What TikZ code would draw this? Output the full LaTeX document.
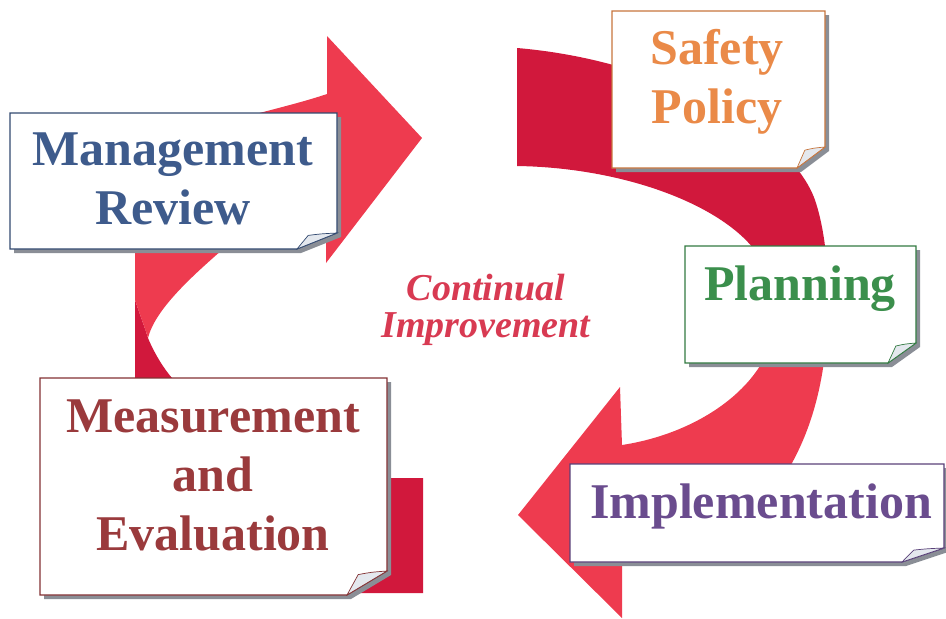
\documentclass[tikz,border=0pt]{standalone}
\usepackage{fontspec}
\setmainfont{Liberation Serif}
\usepackage{xcolor}
\usetikzlibrary{calc}

\definecolor{redlight}{HTML}{EE3B4F}
\definecolor{reddark}{HTML}{D1183C}
\definecolor{boxshadow}{HTML}{8A8E96}
\definecolor{flap}{HTML}{E4E8EE}
\definecolor{reviewc}{HTML}{3E5B8C}
\definecolor{policyc}{HTML}{EA8A48}
\definecolor{planningc}{HTML}{3B8F4C}
\definecolor{measurec}{HTML}{9A3A3C}
\definecolor{implementc}{HTML}{6A4C8E}
\definecolor{improvec}{HTML}{D83A52}

\tikzset{
  steptext/.style={align=center, inner sep=0pt, font=\fontsize{50}{59}\selectfont\bfseries},
  looptext/.style={align=center, inner sep=0pt, text=improvec, font=\fontsize{38}{37}\selectfont\bfseries\itshape}
}

% #1,#2 top left  #3,#4 bottom right  #5,#6 fold size  #7 border colour
\newcommand{\notebox}[7]{%
  \fill[boxshadow] (#1+4,#2+4) -- (#3+4,#2+4) -- (#3+4,#4+4-#6) -- (#3+4-#5,#4+4) -- (#1+4,#4+4) -- cycle;
  \filldraw[draw=#7, fill=white, line width=1.1pt] (#1,#2) -- (#3,#2) -- (#3,#4-#6) -- (#3-#5,#4) -- (#1,#4) -- cycle;
  \filldraw[draw=#7, fill=flap, line width=0.7pt] (#3-#5,#4) .. controls (#3-0.85*#5,#4-0.45*#6) .. (#3-0.72*#5,#4-0.85*#6) .. controls (#3-0.4*#5,#4-0.95*#6) .. (#3,#4-#6) -- cycle;
}

\begin{document}
\begin{tikzpicture}[x=1pt, y=-1pt]
  \useasboundingbox (0,0) rectangle (946,619);

  \fill[reddark] (517,48) .. controls (660,60) and (790,130) .. (815,200) .. controls (825,230) and (828,265) .. (828,300)
    -- (770,290) .. controls (770,225) and (650,168) .. (517,166) -- cycle;
  \fill[redlight] (828,300) .. controls (828,380) and (810,430) .. (792,463) .. controls (760,520) and (700,545) .. (622,550)
    -- (622,618) -- (518,515) -- (620,387) -- (622,445) .. controls (720,430) and (795,360) .. (770,290) -- cycle;

  \fill[reddark] (423,478) -- (423,593) -- (180,593) .. controls (140,593) and (135,560) .. (135,500) -- (135,300)
    .. controls (140,315) and (145,328) .. (148,338) .. controls (155,355) and (165,370) .. (172,378)
    .. controls (200,440) and (300,478) .. (380,478) -- cycle;
  \fill[redlight] (148,338) .. controls (145,328) and (140,315) .. (135,300) -- (135,200) .. controls (135,130) and (250,120) .. (327,94)
    -- (327,36) -- (422,138) -- (326,263) -- (326,215) .. controls (280,220) and (240,235) .. (222,250)
    .. controls (190,278) and (155,310) .. (148,338) -- cycle;

  \notebox{10}{113}{337}{249}{40}{16}{reviewc!80!black}
  \notebox{612}{11}{825}{168}{28}{21}{policyc!85!black}
  \notebox{685}{246}{916}{363}{28}{20}{planningc!85!black}
  \notebox{40}{378}{387}{595}{40}{24}{measurec!85!black}
  \notebox{570}{464}{944}{562}{42}{14}{implementc!85!black}

  \node[steptext, text=reviewc] (review) at (173,179) {Management\\Review};
  \node[steptext, text=policyc] (policy) at (717,82) {Safety\\Policy};
  \node[steptext, text=planningc] (planning) at (800,289) {Planning};
  \node[steptext, text=measurec] (measure) at (213,475) {Measurement\\and\\Evaluation};
  \node[steptext, text=implementc] (implement) at (761,506) {Implementation};
  \node[looptext] (improve) at (486,310) {Continual\\Improvement};
\end{tikzpicture}
\end{document}
